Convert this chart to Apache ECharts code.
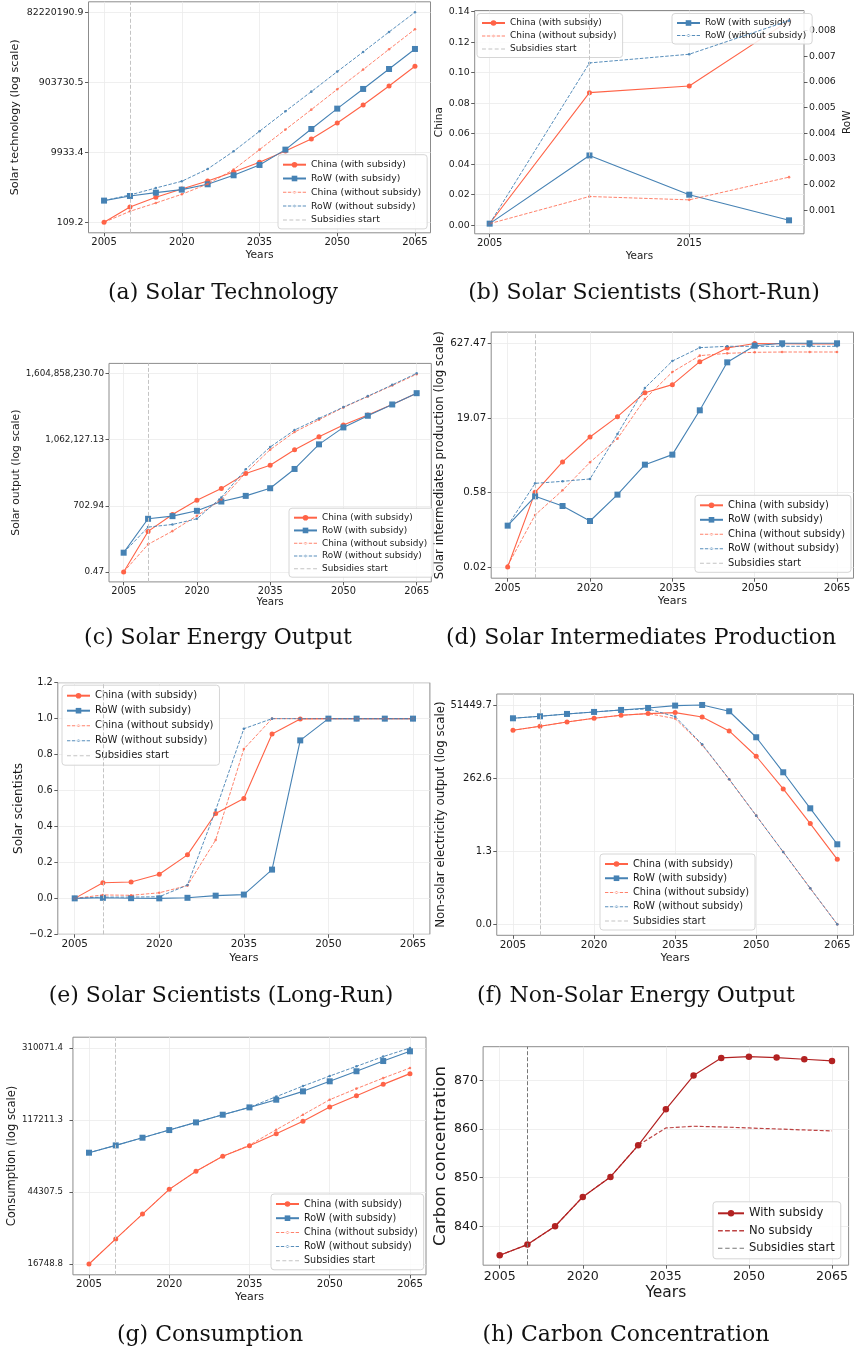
<!DOCTYPE html>
<html><head><meta charset="utf-8">
<script src="https://cdn.jsdelivr.net/npm/echarts@6/dist/echarts.min.js"></script>
<style>html,body{margin:0;padding:0;background:#fff}#c{width:854px;height:1351px}</style>
</head><body><div id="c"></div>
<script>
// ---------------- DATA ----------------
const years = [2005,2010,2015,2020,2025,2030,2035,2040,2045,2050,2055,2060,2065];
const shortYears = [2005,2010,2015,2020];
const SUBSIDY_YEAR = 2010;
const longXTicks = [2005,2020,2035,2050,2065];
const shortXTicks = [2005,2015];

// (a) Solar technology
const techChinaSub = [109.2,293,547,935,1567,2799,5212,10810,23440,65770,209900,714500,2535000];
const techRowSub   = [441.6,595.7,738,895.4,1265,2259,4395,11800,44670,165600,588800,2133000,7745000];
const techChinaNo  = [109.2,221.8,379.3,663.7,1291,3251,11800,42850,155200,575400,2046000,7586000,27540000];
const techRowNo    = [441.6,635.3,997.7,1535,3396,10590,38460,139600,495500,1799000,6397000,23170000,82220190.9];
const techTickVals = [109.2,9933.4,903730.5,82220190.9];
const techTickLabels = ['109.2','9933.4','903730.5','82220190.9'];

// (b) Solar scientists short-run
const sciShortChinaSub = [0.0011,0.0869,0.0913,0.1341];
const sciShortChinaNo  = [0.0010,0.0188,0.0166,0.0315];
const sciShortRowSub   = [0.00047,0.00313,0.00160,0.00060];
const sciShortRowNo    = [0.00047,0.00674,0.00708,0.00839];
const chinaShortTickVals = [0,0.02,0.04,0.06,0.08,0.10,0.12,0.14];
const chinaShortTickLabels = ['0.00','0.02','0.04','0.06','0.08','0.10','0.12','0.14'];
const rowShortTickVals = [0.001,0.002,0.003,0.004,0.005,0.006,0.007,0.008];
const rowShortTickLabels = ['0.001','0.002','0.003','0.004','0.005','0.006','0.007','0.008'];

// (c) Solar output
const outChinaSub = [0.47,41.5,269.8,1309,4742,24720,61940,348300,1459000,5272000,15890000,51400000,179100000];
const outRowSub   = [3.954,167.5,224.9,404.6,1130,2109,4909,41300,626600,4074000,14760000,51400000,179100000];
const outChinaNo  = [0.47,9.91,43.05,233.3,1409,26610,348300,2438000,9484000,36980000,124200000,416900000,1455000000];
const outRowNo    = [3.954,66.8,89.7,167.5,1758,39900,466700,3041000,10990000,38370000,128800000,448700000,1604858230.7];
const outTickVals = [0.47,702.94,1062127.13,1604858230.70];
const outTickLabels = ['0.47','702.94','1,062,127.13','1,604,858,230.70'];

// (d) Solar intermediates
const interChinaSub = [0.0176,0.582,2.415,7.78,20.18,62.09,90.36,265.5,503.5,620,616,607,607];
const interRowSub   = [0.1222,0.4831,0.3069,0.1521,0.5224,2.128,3.404,27.16,257.0,561.0,627.47,627.47,627.47];
const interChinaNo  = [0.01875,0.2014,0.6397,2.377,7.194,46.13,163.3,351.6,391.7,411.1,416.9,416.9,416.9];
const interRowNo    = [0.1222,0.8872,0.975,1.089,8.954,77.27,273.5,511.7,544.5,544.5,544.5,544.5,544.5];
const interTickVals = [0.0176,0.58,19.07,627.47];
const interTickLabels = ['0.02','0.58','19.07','627.47'];

// (e) Solar scientists long-run
const sciChinaSub = [0,0.087,0.091,0.134,0.242,0.472,0.556,0.915,0.998,1,1,1,1];
const sciRowSub   = [0,0.003,0.001,0,0.003,0.015,0.021,0.160,0.879,1,1,1,1];
const sciChinaNo  = [0,0.019,0.017,0.031,0.071,0.325,0.831,1,1,1,1,1,1];
const sciRowNo    = [0.001,0.007,0.007,0.009,0.074,0.491,0.944,1,1,1,1,1,1];
const sciTickVals = [-0.2,0,0.2,0.4,0.6,0.8,1.0,1.2];
const sciTickLabels = ['\u22120.2','0.0','0.2','0.4','0.6','0.8','1.0','1.2'];

// (f) Non-solar output
const nonChinaSub = [8279,11070,15100,19680,24490,27610,29650,21680,7889,1268,119.9,9.817,0.7464];
const nonRowSub   = [19680,22750,26920,31120,35970,41500,49200,51449.7,32660,5000,399,29.65,2.208];
const nonChinaNo  = [8279,11070,15100,19680,24490,27610,19230,2871,241,17.46,1.268,0.092,0.00684];
const nonRowNo    = [19680,22750,26920,31120,35970,38640,22230,3013,241,17.46,1.268,0.092,0.00684];
const nonTickVals = [0.00684,1.34,262.6,51449.7];
const nonTickLabels = ['0.0','1.3','262.6','51449.7'];

// (g) Consumption
const consChinaSub = [16748.8,23500,32890,45920,58610,71780,82790,97500,115100,139600,162900,189700,219300];
const consRowSub   = [75340,83180,92260,102300,113500,125900,139000,154200,172600,197700,226500,260000,296500];
const consChinaNo  = [16748.8,23500,32890,45920,58610,71780,83500,102800,125900,154200,179100,206500,236600];
const consRowNo    = [75340,83180,92260,102300,113500,125900,139000,160700,185400,212300,242100,276100,310071.4];
const consTickVals = [16748.8,44307.5,117211.3,310071.4];
const consTickLabels = ['16748.8','44307.5','117211.3','310071.4'];

// (h) Carbon concentration
const carbonSub = [834.04,836.23,840.0,846.03,850.14,856.64,864.04,870.96,874.59,874.86,874.66,874.32,873.97];
const carbonNo  = [834.04,836.23,840.0,846.03,850.14,856.64,860.2,860.55,860.41,860.2,860.0,859.79,859.59];
const carbonTickVals = [840,850,860,870];
const carbonTickLabels = ['840','850','860','870'];

// ---------------- BUILD ----------------
const FONT = 'DejaVu Sans';
const SERIF = '"DejaVu Serif"';
const RED = '#FF6347', BLUE = '#4682B4', FIRE = '#B22222';
const GRIDC = '#ebebeb', SPINE = '#8c8c8c', TXT = '#1a1a1a';
const N_CS = 'China (with subsidy)', N_RS = 'RoW (with subsidy)', N_CN = 'China (without subsidy)', N_RN = 'RoW (without subsidy)', N_SUB = 'Subsidies start';

// legend icon shapes (dashed handle with small dot / plain dashed handle)
const ICON_DOT_DASH = 'path://M0,0.8h3.5v1h-3.5z M5.1,0.8h3.5v1h-3.5z M15.4,0.8h3.5v1h-3.5z M20.5,0.8h3.5v1h-3.5z M10.2,0.8h3.6v1h-3.6z M10.7,1.3a1.3,1.3 0 1,0 2.6,0a1.3,1.3 0 1,0 -2.6,0z';
const ICON_DASH = 'path://M0,0h4v1h-4z M6.5,0h4v1h-4z M13,0h4v1h-4z M19.5,0h4v1h-4z';
const ICON_DASH_THICK = 'path://M0,0h4.5v1.3h-4.5z M6.7,0h4.5v1.3h-4.5z M13.4,0h4.5v1.3h-4.5z M20.1,0h4.5v1.3h-4.5z';

const grids = [], xAxes = [], yAxes = [], series = [], legends = [], graphics = [];

function lg(v){ return Math.log10(v); }
function padExt(arrs, isLog){
  let all = [].concat(...arrs); if (isLog) all = all.map(lg);
  const lo = Math.min(...all), hi = Math.max(...all), r = hi - lo;
  return [lo - 0.05*r, hi + 0.05*r];
}
function lookupFmt(vals, labels, isLog){
  const keys = vals.map(v => isLog ? lg(v) : v);
  return function(v){ let bi=0, bd=Infinity; keys.forEach((k,i)=>{const d=Math.abs(k-v); if(d<bd){bd=d;bi=i;}}); return labels[bi]; };
}
function addGrid(l, t, r, b){
  grids.push({left:l, top:t, width:r-l, height:b-t, show:true, borderColor:SPINE, borderWidth:1, backgroundColor:'transparent'});
  return grids.length - 1;
}
function addX(gi, min, max, ticks, fs, nfs, gap){
  xAxes.push({type:'value', gridIndex:gi, min, max, name:'Years', nameLocation:'middle', nameGap:gap,
    nameTextStyle:{fontFamily:FONT, fontSize:nfs, color:TXT},
    axisLine:{show:false, onZero:false},
    axisTick:{show:true, inside:false, length:3.5, lineStyle:{color:'#333', width:0.8}, customValues:ticks},
    axisLabel:{customValues:ticks, fontFamily:FONT, fontSize:fs, color:TXT, margin:5, formatter: v => String(Math.round(v))},
    splitLine:{show:true, lineStyle:{color:GRIDC, width:0.8}}});
  return xAxes.length - 1;
}
function addY(gi, ext, tickVals, tickLabels, isLog, name, fs, nfs, gap, opts){
  const ticks = tickVals.map(v => isLog ? lg(v) : v);
  const o = opts || {};
  yAxes.push({type:'value', gridIndex:gi, min:ext[0], max:ext[1], position:o.position || 'left',
    name, nameLocation:'middle', nameRotate:90, nameGap:gap,
    nameTextStyle:{fontFamily:FONT, fontSize:nfs, color:TXT},
    axisLine:{show:false, onZero:false},
    axisTick:{show:true, inside:false, length:3.5, lineStyle:{color:'#333', width:0.8}, customValues:ticks},
    axisLabel:{customValues:ticks, fontFamily:FONT, fontSize:fs, color:TXT, margin:o.margin || 5, formatter: lookupFmt(tickVals, tickLabels, isLog)},
    splitLine:{show:o.split !== false, lineStyle:{color:GRIDC, width:0.8}}});
  return yAxes.length - 1;
}
const STY = {
  cs: {color:RED, lineStyle:{width:1.1}, symbol:'circle', symbolSize:5, z:3},
  rs: {color:BLUE, lineStyle:{width:1.1}, symbol:'rect', symbolSize:6, z:3},
  cn: {color:RED, lineStyle:{width:1, type:[3.5,1.6], opacity:0.8}, itemStyle:{opacity:0.8}, symbol:'circle', symbolSize:2.6, z:4},
  rn: {color:BLUE, lineStyle:{width:1, type:[3.5,1.6], opacity:0.9}, itemStyle:{opacity:0.9}, symbol:'circle', symbolSize:2.6, z:4}
};
function addLine(name, xi, yi, xs, ys, sty, isLog){
  series.push(Object.assign({type:'line', name, xAxisIndex:xi, yAxisIndex:yi, animation:false,
    data: xs.map((x,i) => [x, isLog ? lg(ys[i]) : ys[i]])}, JSON.parse(JSON.stringify(sty))));
}
function addSubsidy(xi, yi, yv, color){
  series.push({type:'line', name:N_SUB, xAxisIndex:xi, yAxisIndex:yi, data:[[SUBSIDY_YEAR, yv]], symbol:'none', animation:false,
    color, lineStyle:{color, width:1, type:[4,2]}, z:2,
    markLine:{silent:true, symbol:['none','none'], label:{show:false}, animation:false,
      lineStyle:{color, width:1, type:[4,2]}, data:[{xAxis:SUBSIDY_YEAR}]}});
}
function legItem(name){
  if (name === N_CN || name === N_RN) return {name, icon:ICON_DOT_DASH};
  if (name === N_SUB) return {name, icon:ICON_DASH};
  return {name};
}
function addLegend(left, firstY, fs, spacing, names, extra){
  const lh = Math.round(fs*1.25), padT = 4;
  legends.push(Object.assign({orient:'vertical', left, top:firstY - lh/2 - padT, padding:[padT,6,3,4],
    itemWidth:23, itemHeight:7, itemGap:spacing - lh, selectedMode:false, symbolKeepAspect:true,
    backgroundColor:'rgba(255,255,255,0.85)', borderColor:'#d6d6d6', borderWidth:1, borderRadius:3,
    textStyle:{fontFamily:FONT, fontSize:fs, color:TXT, lineHeight:lh}, data:names.map(n => typeof n === 'string' ? legItem(n) : n)}, extra || {}));
}
function caption(text, x, y){
  graphics.push({type:'text', x, y, silent:true,
    style:{text, font:'22px ' + SERIF, fill:'#111', align:'center', verticalAlign:'middle', textAlign:'center', textVerticalAlign:'middle'}});
}
const LONGX = [2002, 2068];
const FOUR = [N_CS, N_RS, N_CN, N_RN, N_SUB];

function fourPanel(frame, arrs, tickVals, tickLabels, isLog, yname, fs, nfs, ygap, xgap, leg){
  const gi = addGrid(...frame);
  const xi = addX(gi, LONGX[0], LONGX[1], longXTicks, fs.x, nfs.x, xgap);
  const ext = isLog ? padExt(arrs, true) : leg.ext;
  const yi = addY(gi, ext, tickVals, tickLabels, isLog, yname, fs.y, nfs.y, ygap, {margin:fs.m});
  addLine(N_CS, xi, yi, years, arrs[0], STY.cs, isLog);
  addLine(N_RS, xi, yi, years, arrs[1], STY.rs, isLog);
  addLine(N_CN, xi, yi, years, arrs[2], STY.cn, isLog);
  addLine(N_RN, xi, yi, years, arrs[3], STY.rn, isLog);
  addSubsidy(xi, yi, (ext[0]+ext[1])/2, '#c4c4c4');
  addLegend(leg.left, leg.firstY, leg.fs, leg.spacing, FOUR);
}

// (a)
fourPanel([88.5, 1.8, 430.5, 232.8], [techChinaSub, techRowSub, techChinaNo, techRowNo], techTickVals, techTickLabels, true,
  'Solar technology (log scale)', {x:10, y:9.4, m:5}, {x:10.7, y:11.2}, 68, 17, {left:278, firstY:164.7, fs:9.3, spacing:13.8});

// (b) short run, twin axes
(function(){
  const gi = addGrid(474.7, 10.5, 812, 233.8);
  const xi = addX(gi, 2004.25, 2020.75, shortXTicks, 10, 10.4, 17);
  const yl = addY(gi, padExt([sciShortChinaSub, sciShortChinaNo], false), chinaShortTickVals, chinaShortTickLabels, false, 'China', 9.4, 10.5, 23);
  const yr = addY(gi, padExt([sciShortRowSub, sciShortRowNo], false), rowShortTickVals, rowShortTickLabels, false, 'RoW', 9.4, 10.5, 38, {position:'right', split:false});
  addLine(N_CS, xi, yl, shortYears, sciShortChinaSub, STY.cs, false);
  addLine(N_RS, xi, yr, shortYears, sciShortRowSub, STY.rs, false);
  addLine(N_CN, xi, yl, shortYears, sciShortChinaNo, STY.cn, false);
  addLine(N_RN, xi, yr, shortYears, sciShortRowNo, STY.rn, false);
  addSubsidy(xi, yl, 0.07, '#c4c4c4');
  addLegend(477, 23, 9, 13, [N_CS, N_CN, N_SUB]);
  addLegend(672, 23, 9, 12.5, [N_RS, N_RN]);
})();

// (c)
fourPanel([109, 363.4, 431.3, 581.9], [outChinaSub, outRowSub, outChinaNo, outRowNo], outTickVals, outTickLabels, true,
  'Solar output (log scale)', {x:9.8, y:8.8, m:5}, {x:10.3, y:10.8}, 85, 15, {left:289, firstY:517.7, fs:8.9, spacing:12.75});

// (d)
fourPanel([491.2, 332.1, 853.5, 578.2], [interChinaSub, interRowSub, interChinaNo, interRowNo], interTickVals, interTickLabels, true,
  'Solar intermediates production (log scale)', {x:10.4, y:10.3, m:5}, {x:11, y:11.8}, 42, 17, {left:695, firstY:505.3, fs:9.9, spacing:14.5});

// (e)
fourPanel([57.8, 682.7, 429.9, 934.3], [sciChinaSub, sciRowSub, sciChinaNo, sciRowNo], sciTickVals, sciTickLabels, false,
  'Solar scientists', {x:10.4, y:9.8, m:5}, {x:11, y:12}, 33, 18, {left:62, firstY:695.7, fs:10, spacing:15, ext:[-0.2, 1.2]});

// (f)
fourPanel([496.75, 694, 853.5, 935.3], [nonChinaSub, nonRowSub, nonChinaNo, nonRowNo], nonTickVals, nonTickLabels, true,
  'Non-solar electricity output (log scale)', {x:10.4, y:10, m:5}, {x:11.1, y:11.8}, 48, 17, {left:600, firstY:864, fs:9.8, spacing:14.25});

// (g)
fourPanel([72.95, 1037.2, 426, 1274.8], [consChinaSub, consRowSub, consChinaNo, consRowNo], consTickVals, consTickLabels, true,
  'Consumption (log scale)', {x:10.2, y:8.6, m:10}, {x:11, y:11.6}, 53, 17, {left:271, firstY:1204, fs:9.6, spacing:14.2});

// (h)
(function(){
  const gi = addGrid(483.1, 1046.7, 848.6, 1265.2);
  const xi = addX(gi, LONGX[0], LONGX[1], longXTicks, 12.6, 15.5, 20);
  const ext = padExt([carbonSub, carbonNo], false);
  const yi = addY(gi, ext, carbonTickVals, carbonTickLabels, false, 'Carbon concentration', 12.6, 16.6, 34);
  addLine('With subsidy', xi, yi, years, carbonSub, {color:FIRE, lineStyle:{width:1.2}, symbol:'circle', symbolSize:6.5, z:3}, false);
  addLine('No subsidy', xi, yi, years, carbonNo, {color:FIRE, lineStyle:{width:1.2, type:[4,2], opacity:0.85}, itemStyle:{opacity:0.85}, symbol:'none', z:4}, false);
  addSubsidy(xi, yi, 850, '#777777');
  addLegend(713, 1213.3, 11.6, 17.5, [
    {name:'With subsidy'},
    {name:'No subsidy', icon:ICON_DASH_THICK},
    {name:N_SUB, icon:ICON_DASH, itemStyle:{color:'#777777'}, lineStyle:{color:'#777777'}}
  ], {itemWidth:26, itemHeight:8});
})();

caption('(a) Solar Technology', 223, 293);
caption('(b) Solar Scientists (Short-Run)', 644, 293);
caption('(c) Solar Energy Output', 218, 638);
caption('(d) Solar Intermediates Production', 641, 638);
caption('(e) Solar Scientists (Long-Run)', 221, 996);
caption('(f) Non-Solar Energy Output', 636, 996);
caption('(g) Consumption', 210, 1335);
caption('(h) Carbon Concentration', 626, 1335);

const chart = echarts.init(document.getElementById('c'), null, {renderer:'canvas', width:854, height:1351});
chart.setOption({
  backgroundColor:'#ffffff', animation:false,
  grid:grids, xAxis:xAxes, yAxis:yAxes, series, legend:legends, graphic:graphics
});
</script></body></html>
